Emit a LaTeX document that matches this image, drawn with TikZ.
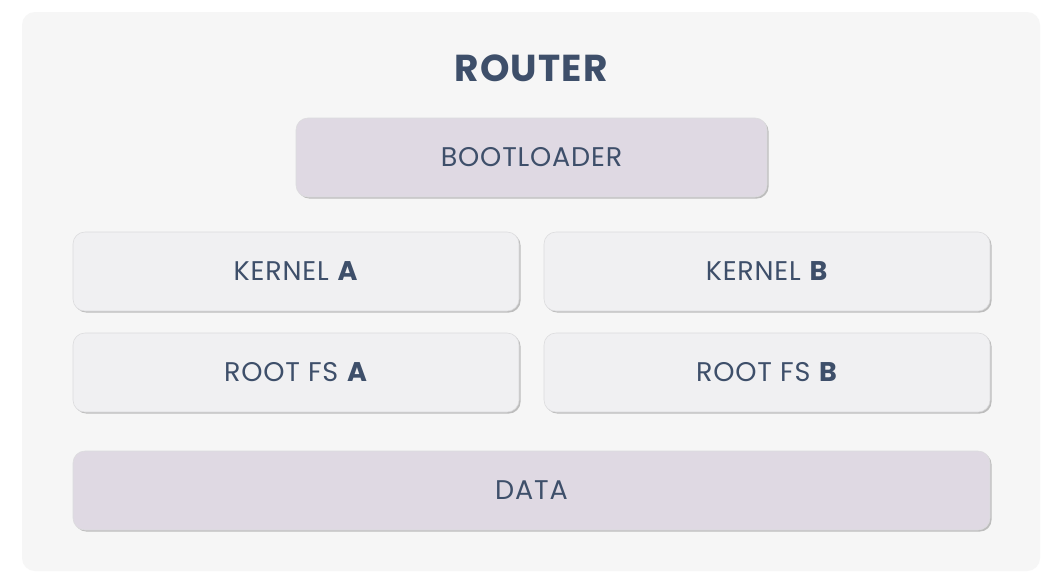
\documentclass[tikz,border=0pt]{standalone}
\usepackage{fontspec}
\setmainfont{Poppins}[LetterSpace=3]
\usetikzlibrary{shadows}
\definecolor{bgouter}{HTML}{F6F6F6}
\definecolor{purplebox}{HTML}{DFD9E3}
\definecolor{greybox}{HTML}{F0F0F2}
\definecolor{txt}{HTML}{3E4F6A}
\definecolor{edge}{HTML}{DCDCDE}
\definecolor{shade}{HTML}{BDBDBD}
\begin{document}
\begin{tikzpicture}[x=1pt,y=-1pt,
  part/.style={draw=edge,line width=0.6pt,rounded corners=12pt,minimum height=79pt,
    font=\fontsize{27}{30}\selectfont,text=txt,inner sep=0pt,
    drop shadow={shadow xshift=1.6pt,shadow yshift=-1.6pt,fill=shade,opacity=1}},
  purple/.style={part,fill=purplebox},
  grey/.style={part,fill=greybox}]
\useasboundingbox (0,0) rectangle (1062,584);
\fill[white] (0,0) rectangle (1062,584);
\fill[bgouter,rounded corners=13pt] (22,12) rectangle (1040,571);
\node[text=txt,font=\fontsize{37.5}{40}\selectfont\bfseries] (title) at (531,68) {ROUTER};
\node[purple,minimum width=471pt] (boot) at (531.5,157.5) {BOOTLOADER};
\node[grey,minimum width=446pt] (ka) at (296,271.5) {KERNEL \textbf{A}};
\node[grey,minimum width=446pt] (kb) at (767,271.5) {KERNEL \textbf{B}};
\node[grey,minimum width=446pt] (ra) at (296,372.5) {ROOT FS \textbf{A}};
\node[grey,minimum width=446pt] (rb) at (767,372.5) {ROOT FS \textbf{B}};
\node[purple,minimum width=917pt] (data) at (531.5,490.5) {DATA};
\end{tikzpicture}
\end{document}
